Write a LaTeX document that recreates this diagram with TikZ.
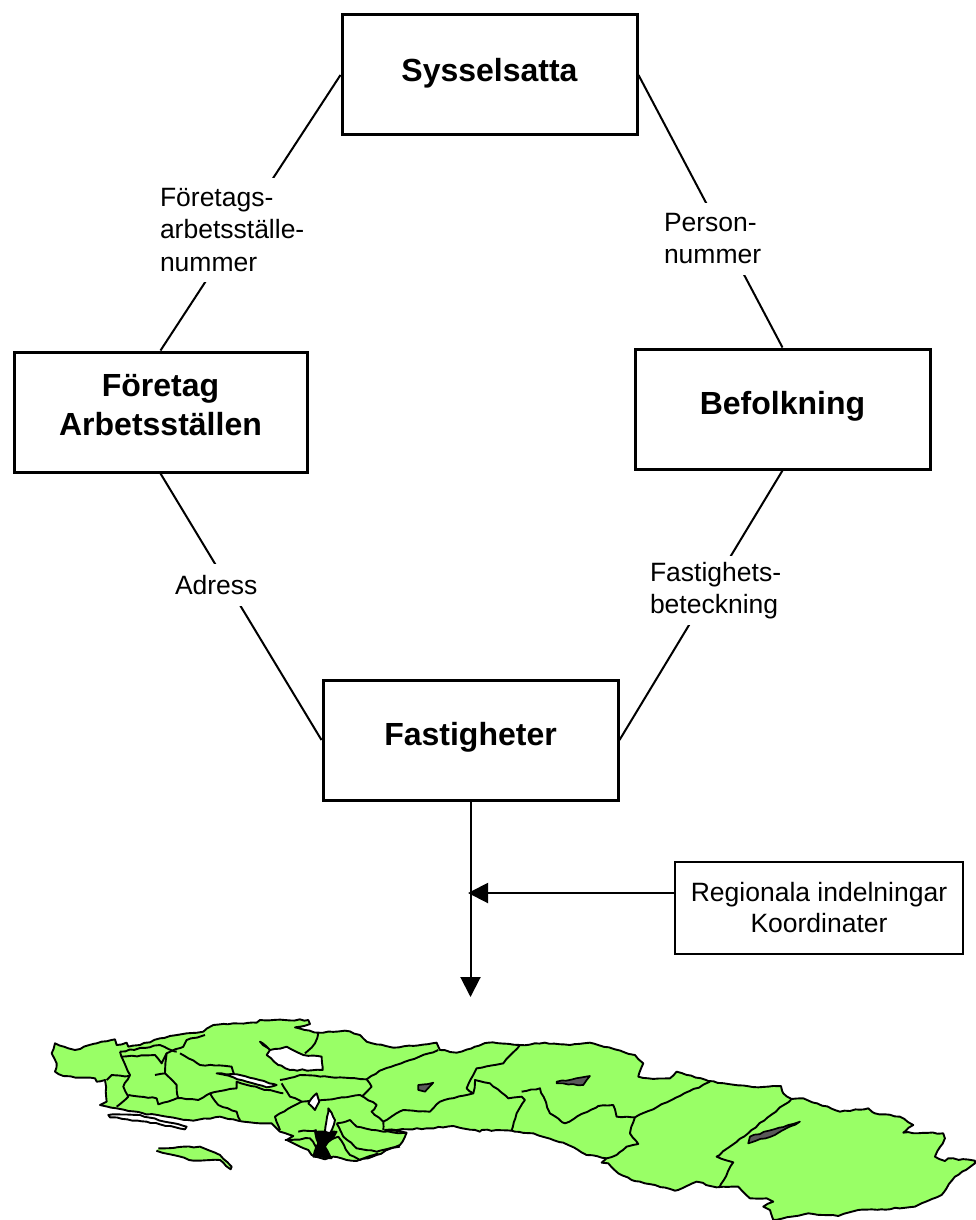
\documentclass[tikz,border=0pt]{standalone}
\usepackage{fontspec}
\setmainfont{Liberation Sans}
\usetikzlibrary{arrows.meta,decorations.pathmorphing}
\definecolor{mapgreen}{RGB}{153,255,102}
\tikzset{
  bigbox/.style={draw=black,line width=3pt,fill=white,minimum width=#1,minimum height=120pt,inner sep=0pt,align=center,font=\fontsize{32}{39}\selectfont\bfseries},
  linklabel/.style={fill=white,inner sep=0pt,align=left,font=\fontsize{26.5}{32.5}\selectfont},
  thinline/.style={draw=black,line width=2pt},
  arrowline/.style={thinline,-{Triangle[length=20pt,width=20pt]}},
  rough/.style={decorate,decoration={random steps,segment length=5pt,amplitude=0.7pt}},
  mapland/.style={rough,draw=black,fill=mapgreen,line width=1.9pt,line join=round},
  mapborder/.style={rough,draw=black,line width=1.9pt,line join=round},
  maphole/.style={rough,draw=black,fill=white,line width=1.9pt,line join=round},
  mapdark/.style={rough,draw=black,fill=black!65,line width=1.7pt,line join=round}
}
\pgfmathsetseed{42}
\begin{document}
\begin{tikzpicture}[x=1pt,y=-1pt]
\useasboundingbox (0,0) rectangle (975,1220);
% boxes
\node[bigbox=295pt] (syss) at (489.5,75) {Sysselsatta\rule[-11pt]{0pt}{11pt}};
\node[bigbox=293pt] (foretag) at (160.5,412) {Företag\\Arbetsställen\rule[-14pt]{0pt}{14pt}};
\node[bigbox=295pt] (befolk) at (782.5,409) {Befolkning\rule[-13pt]{0pt}{13pt}};
\node[bigbox=295pt] (fast) at (470.5,740) {Fastigheter\rule[-13pt]{0pt}{13pt}};
\node[draw=black,line width=2pt,minimum width=288pt,minimum height=92pt,inner sep=0pt,align=center,font=\fontsize{26.5}{31}\selectfont] (reg) at (819,908) {Regionala indelningar\\Koordinater};
\coordinate (regout) at (675,893);
\coordinate (junction) at (468,893);
\coordinate (maptop) at (470.5,997);
% connectors
\draw[thinline] (syss.west) -- (foretag.north);
\draw[thinline] (syss.east) -- (befolk.north);
\draw[thinline] (foretag.south) -- (fast.west);
\draw[thinline] (befolk.south) -- (fast.east);
\draw[arrowline] (fast.south) -- (maptop);
\draw[arrowline] (regout) -- (junction);
% labels
\node[linklabel,minimum height=104pt,text width=150pt] (l1) at (235,230) {Företags-\\arbetsställe-\\nummer};
\node[linklabel,minimum height=72pt,text width=106pt] (l2) at (717,238.5) {Person-\\nummer};
\node[linklabel,minimum height=42pt,text width=84pt] (l3) at (217,585) {Adress};
\node[linklabel,minimum height=69pt,text width=136pt] (l4) at (718,590.5) {Fastighets-\\beteckning};
% map
\begin{scope}[shift={(0,1000)},x=0.3333pt,y=-0.3333pt]
\draw[mapland] (165,130)--(205,145)--(225,150)--(290,130)--(345,118)--(350,135)--(380,128)--(385,140)--(420,135)--(480,115)--(560,100)--(610,95)--(640,75)--(700,70)--(770,68)--(780,60)--(925,60)--(930,72)--(885,82)--(955,98)--(1035,92)--(1080,105)--(1100,125)--(1180,143)--(1310,128)--(1320,150)--(1370,158)--(1425,140)--(1465,128)--(1560,135)--(1635,128)--(1710,135)--(1770,128)--(1845,148)--(1905,165)--(1930,190)--(1915,230)--(1945,235)--(2010,235)--(2030,215)--(2125,243)--(2185,252)--(2275,262)--(2343,258)--(2350,280)--(2375,297)--(2410,295)--(2520,335)--(2605,325)--(2625,340)--(2700,350)--(2740,375)--(2710,398)--(2830,400)--(2835,415)--(2805,470)--(2835,483)--(2845,475)--(2925,482)--(2925,490)--(2865,530)--(2840,565)--(2825,585)--(2765,610)--(2745,620)--(2645,628)--(2575,630)--(2515,648)--(2425,640)--(2375,650)--(2320,660)--(2310,630)--(2290,620)--(2320,605)--(2300,595)--(2250,595)--(2215,560)--(2150,562)--(2090,545)--(2025,572)--(1965,555)--(1895,540)--(1855,520)--(1825,490)--(1805,488)--(1820,475)--(1760,465)--(1705,435)--(1600,400)--(1545,395)--(1535,392)--(1445,390)--(1440,395)--(1360,378)--(1280,385)--(1155,390)--(1220,398)--(1200,435)--(1130,465)--(1070,483)--(1040,480)--(1000,470)--(975,478)--(935,465)--(925,450)--(880,430)--(860,420)--(880,408)--(840,395)--(815,370)--(780,370)--(730,365)--(700,358)--(660,350)--(580,362)--(500,350)--(430,340)--(350,325)--(300,315)--(320,305)--(315,240)--(290,245)--(285,235)--(190,228)--(165,215)--(170,190)--(155,160)--cycle;
% inner borders
\draw[mapborder] (360,155)--(390,225)--(370,260)--(385,290)--(350,320);
\draw[mapborder] (390,228)--(335,225)--(320,240);
\draw[mapborder] (365,170)--(465,165)--(485,190)--(500,160)--(550,140)--(560,120)--(615,105);
\draw[mapborder] (360,155)--(480,135)--(530,155);
\draw[mapborder] (500,160)--(495,220)--(465,225);
\draw[mapborder] (495,220)--(530,255)--(535,295);
\draw[mapborder] (540,160)--(600,195)--(695,200)--(702,222);
\draw[mapborder] (385,285)--(470,295)--(475,313)--(530,295)--(595,300)--(630,280)--(710,265)--(710,245)--(780,265)--(850,280);
\draw[mapborder] (630,280)--(655,315)--(710,335)--(720,360);
\draw[mapborder] (845,250)--(870,290)--(905,305)--(1010,295)--(1080,285)--(1130,315)--(1115,335)--(1150,365)--(1150,390);
\draw[mapborder] (840,240)--(900,225)--(1100,238)--(1115,260)--(1085,290);
\draw[mapborder] (1100,238)--(1145,210)--(1315,150);
\draw[mapborder] (955,98)--(945,130)--(915,160);
\draw[mapborder] (1150,365)--(1210,330)--(1290,335)--(1320,305)--(1420,280)--(1400,265)--(1430,205)--(1510,190)--(1560,135);
\draw[mapborder] (1420,280)--(1425,240)--(1470,250)--(1525,295)--(1565,290)--(1575,300)--(1550,340)--(1535,392);
\draw[mapborder] (1565,275)--(1620,265)--(1650,340)--(1695,370)--(1795,318)--(1840,315)--(1850,350)--(1905,352)--(2015,300)--(2130,245);
\draw[mapborder] (1905,352)--(1890,400)--(1915,432)--(1880,440)--(1850,465)--(1820,475);
\draw[mapborder] (2375,297)--(2255,390)--(2150,470)--(2200,487)--(2160,560);
\draw[mapborder] (905,305)--(825,350)--(840,390);
\draw[mapborder] (1010,370)--(1050,360)--(1070,380)--(1150,395)--(1220,400);
\draw[mapborder] (1010,370)--(1030,410)--(1070,445)--(1130,455)--(1200,440);
\draw[mapborder] (975,430)--(1015,410)--(1050,465)--(1080,480)--(1135,460);
\draw[mapborder] (895,395)--(950,390);
\draw[mapborder] (855,420)--(930,415)--(950,445);
\draw[mapdark,fill=black] (945,395)--(1010,395)--(975,440)--(995,475)--(940,470)--(955,430)--cycle;
% lakes and islands
\draw[maphole] (780,125)--(810,150)--(860,140)--(910,165)--(965,170)--(968,210)--(870,210)--(835,195)--(800,165)--(810,150)--cycle;
\draw[maphole] (650,220)--(720,225)--(830,255)--(800,262)--(700,232)--cycle;
\draw[maphole] (950,280)--(958,305)--(945,330)--(925,310)--cycle;
\draw[maphole] (985,325)--(1005,360)--(990,400)--(975,395)--cycle;
\draw[mapdark] (1255,255)--(1300,248)--(1275,275)--(1255,270)--cycle;
\draw[mapdark] (1670,245)--(1770,228)--(1750,255)--(1670,250)--cycle;
\draw[mapdark] (2245,430)--(2250,410)--(2400,365)--(2325,405)--cycle;
\draw[maphole] (325,345)--(420,345)--(560,380)--(555,388)--(440,365)--(330,352)--cycle;
\draw[mapland] (475,445)--(600,440)--(660,465)--(695,500)--(692,508)--(660,480)--(580,482)--(520,465)--(480,455)--cycle;
\end{scope}
\end{tikzpicture}
\end{document}
